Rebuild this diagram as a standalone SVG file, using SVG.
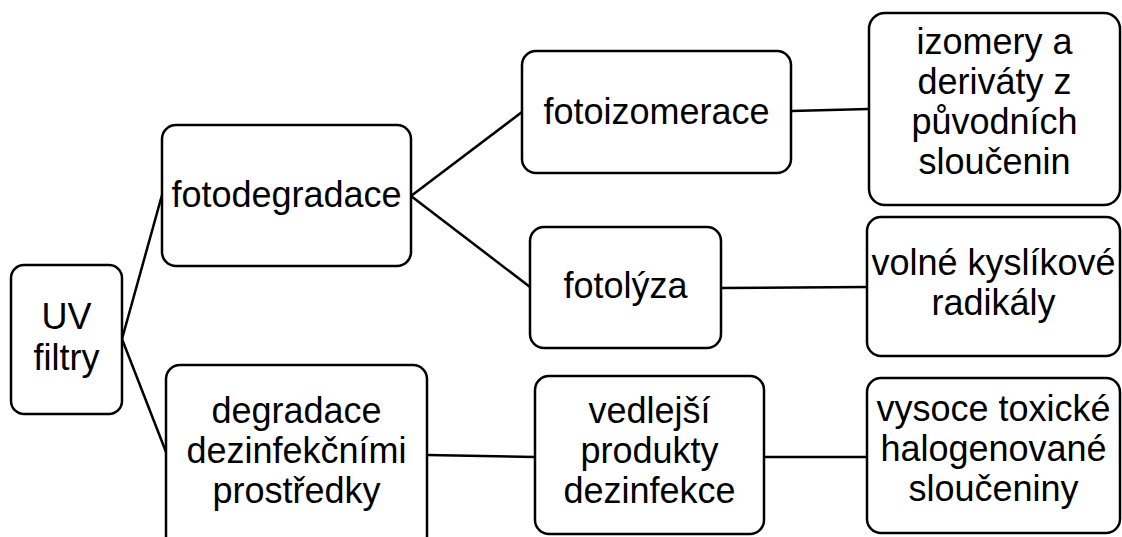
<svg xmlns="http://www.w3.org/2000/svg" width="1122" height="537" viewBox="0 0 1122 537">
<style>
.box{fill:#fff;stroke:#000;stroke-width:2.5}
.t{font-family:"Liberation Sans",Arial,sans-serif;font-size:36px;fill:#000;text-anchor:middle}
.c{stroke:#000;stroke-width:2.5;fill:none}
</style>
<rect width="1122" height="537" fill="#fff"/>
<g id="connectors">
<line class="c" x1="122" y1="339" x2="162" y2="195"/>
<line class="c" x1="122" y1="339" x2="166" y2="452"/>
<line class="c" x1="411" y1="196" x2="522" y2="112"/>
<line class="c" x1="411" y1="196" x2="530" y2="287"/>
<line class="c" x1="791" y1="111" x2="869" y2="109"/>
<line class="c" x1="721" y1="288" x2="867" y2="287"/>
<line class="c" x1="427" y1="455" x2="535" y2="457"/>
<line class="c" x1="764" y1="457" x2="867" y2="457"/>
</g>
<g id="uv">
<rect class="box" x="11" y="265" width="111" height="149" rx="13"/>
<text class="t" x="66.5" y="329">UV</text>
<text class="t" x="66.5" y="370">filtry</text>
</g>
<g id="fotodegradace">
<rect class="box" x="162" y="125" width="249" height="141" rx="14"/>
<text class="t" x="286.5" y="207">fotodegradace</text>
</g>
<g id="degradace">
<rect class="box" x="166" y="365" width="261" height="185" rx="14"/>
<text class="t" x="296.5" y="423">degradace</text>
<text class="t" x="296.5" y="463">dezinfekčními</text>
<text class="t" x="296.5" y="503">prostředky</text>
</g>
<g id="fotoizomerace">
<rect class="box" x="522" y="51" width="269" height="122" rx="14"/>
<text class="t" x="656.5" y="124">fotoizomerace</text>
</g>
<g id="fotolyza">
<rect class="box" x="530" y="227" width="191" height="121" rx="14"/>
<text class="t" x="625.5" y="298">fotolýza</text>
</g>
<g id="vedlejsi">
<rect class="box" x="535" y="376" width="229" height="158" rx="14"/>
<text class="t" x="649.5" y="423">vedlejší</text>
<text class="t" x="649.5" y="463">produkty</text>
<text class="t" x="649.5" y="503">dezinfekce</text>
</g>
<g id="izomery">
<rect class="box" x="869" y="13" width="251" height="192" rx="16"/>
<text class="t" x="994.5" y="54">izomery a</text>
<text class="t" x="994.5" y="94">deriváty z</text>
<text class="t" x="994.5" y="134">původních</text>
<text class="t" x="994.5" y="174">sloučenin</text>
</g>
<g id="volne">
<rect class="box" x="867" y="217" width="253" height="139" rx="14"/>
<text class="t" x="993.5" y="275">volné kyslíkové</text>
<text class="t" x="993.5" y="315">radikály</text>
</g>
<g id="vysoce">
<rect class="box" x="867" y="378" width="253" height="155" rx="14"/>
<text class="t" x="993.5" y="421">vysoce toxické</text>
<text class="t" x="993.5" y="461">halogenované</text>
<text class="t" x="993.5" y="501">sloučeniny</text>
</g>
</svg>
